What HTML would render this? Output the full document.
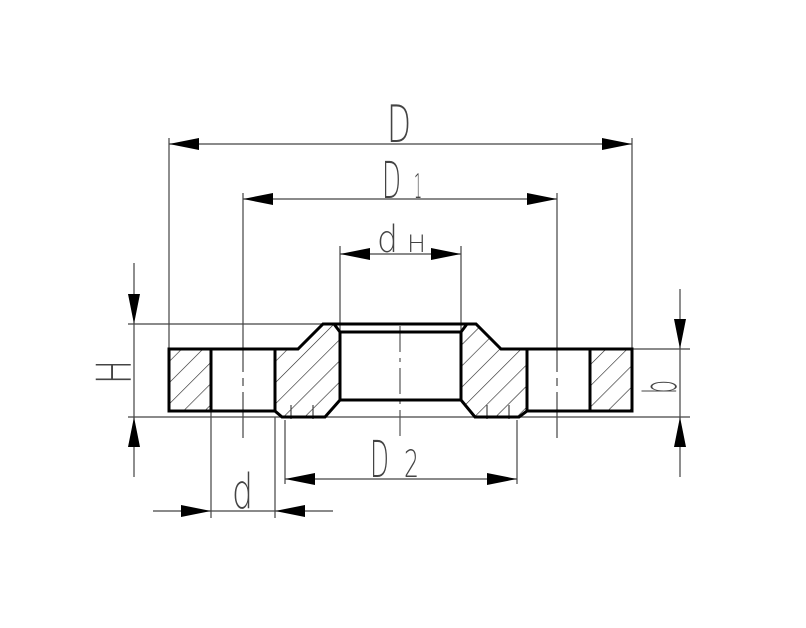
<!DOCTYPE html>
<html><head><meta charset="utf-8"><style>html,body{margin:0;padding:0;background:#fff}svg{display:block}</style></head>
<body>
<svg width="806" height="628" viewBox="0 0 806 628" xmlns="http://www.w3.org/2000/svg">
<defs>
<pattern id="h" patternUnits="userSpaceOnUse" width="15" height="15" patternTransform="rotate(45)">
<line x1="0" y1="0" x2="0" y2="15" stroke="#222" stroke-width="1.2"/>
</pattern>
</defs>
<g fill="url(#h)" stroke="none">
<rect x="169" y="349" width="42" height="62"/>
<rect x="590" y="349" width="42" height="62"/>
<polygon points="275,349 298,349 323,324 334,324 340,332 340,400 325,417 282,417 275,411"/>
<polygon points="527,349 501,349 476,324 467,324 461,332 461,400 475,417 519,417 527,411"/>
</g>
<g stroke="#444" stroke-width="1.2" fill="none">
<line x1="169" y1="138" x2="169" y2="349"/>
<line x1="632" y1="138" x2="632" y2="349"/>
<line x1="340" y1="246" x2="340" y2="332"/>
<line x1="461" y1="246" x2="461" y2="332"/>
<line x1="243" y1="193" x2="243" y2="438"/>
<line x1="557" y1="193" x2="557" y2="438"/>
<line x1="285" y1="420" x2="285" y2="484"/>
<line x1="517" y1="420" x2="517" y2="484"/>
<line x1="211" y1="411" x2="211" y2="518"/>
<line x1="275" y1="417" x2="275" y2="518"/>
<line x1="128" y1="324" x2="323" y2="324"/>
<line x1="128" y1="417" x2="690" y2="417"/>
<line x1="632" y1="349" x2="690" y2="349"/>
<line x1="169" y1="144" x2="632" y2="144"/>
<line x1="243" y1="199" x2="557" y2="199"/>
<line x1="340" y1="254" x2="461" y2="254"/>
<line x1="285" y1="479" x2="517" y2="479"/>
<line x1="153" y1="511" x2="333" y2="511"/>
<line x1="134" y1="263" x2="134" y2="477"/>
<line x1="680" y1="289" x2="680" y2="477"/>
<line x1="291" y1="405" x2="291" y2="419"/><line x1="313" y1="405" x2="313" y2="419"/>
<line x1="487" y1="405" x2="487" y2="419"/><line x1="509" y1="405" x2="509" y2="419"/>
</g>
<g stroke="#555" stroke-width="1.2" stroke-dasharray="26,6,4,6">
<line x1="400" y1="326" x2="400" y2="440"/>
</g>
<g stroke="#fff" stroke-width="3">
<line x1="243" y1="372" x2="243" y2="378"/><line x1="243" y1="386" x2="243" y2="392"/>
<line x1="557" y1="372" x2="557" y2="378"/><line x1="557" y1="386" x2="557" y2="392"/>
</g>
<g fill="#000">
<polygon points="169,144 199,138 199,150"/><polygon points="632,144 602,138 602,150"/>
<polygon points="243,199 273,193 273,205"/><polygon points="557,199 527,193 527,205"/>
<polygon points="340,254 370,248 370,260"/><polygon points="461,254 431,248 431,260"/>
<polygon points="285,479 315,473 315,485"/><polygon points="517,479 487,473 487,485"/>
<polygon points="211,511 181,505 181,517"/><polygon points="275,511 305,505 305,517"/>
<polygon points="134,324 128,294 140,294"/><polygon points="134,417 128,447 140,447"/>
<polygon points="680,349 674,319 686,319"/><polygon points="680,417 674,447 686,447"/>
</g>
<g stroke="#000" stroke-width="3" fill="none">
<rect x="169" y="349" width="42" height="62"/>
<rect x="590" y="349" width="42" height="62"/>
<line x1="211" y1="411" x2="275" y2="411"/>
<line x1="527" y1="411" x2="590" y2="411"/>
<line x1="211" y1="349" x2="275" y2="349"/>
<line x1="527" y1="349" x2="590" y2="349"/>
<polyline points="275,349 275,411 282,417 325,417 340,400 461,400 475,417 519,417 527,411 527,349 501,349 476,324 323,324 298,349 275,349"/>
<polyline points="334,324 340,332 461,332 467,324"/>
<line x1="340" y1="332" x2="340" y2="400"/>
<line x1="461" y1="332" x2="461" y2="400"/>
</g>
<g font-family="DejaVu Sans ExtraLight, DejaVu Sans Light, Liberation Sans, sans-serif" font-weight="200" fill="#444">
<text x="387" y="142" font-size="52" textLength="24" lengthAdjust="spacingAndGlyphs">D</text>
<text x="382" y="198" font-size="51" textLength="19" lengthAdjust="spacingAndGlyphs">D</text>
<text x="414" y="198" font-size="34" textLength="8" lengthAdjust="spacingAndGlyphs">1</text>
<text x="377" y="252" font-size="37" textLength="21" lengthAdjust="spacingAndGlyphs">d</text>
<text x="407" y="252" font-size="24" textLength="19" lengthAdjust="spacingAndGlyphs">H</text>
<text x="370" y="477" font-size="51" textLength="19" lengthAdjust="spacingAndGlyphs">D</text>
<text x="404" y="477" font-size="37" textLength="15" lengthAdjust="spacingAndGlyphs">2</text>
<text x="232" y="508" font-size="48" textLength="21" lengthAdjust="spacingAndGlyphs">d</text>
<text transform="translate(131,384) rotate(-90)" x="0" y="0" font-size="48" textLength="24" lengthAdjust="spacingAndGlyphs">H</text>
<text transform="translate(676,394) rotate(-90)" x="0" y="0" font-size="45" textLength="14" lengthAdjust="spacingAndGlyphs">b</text>
</g>
</svg>
</body></html>
